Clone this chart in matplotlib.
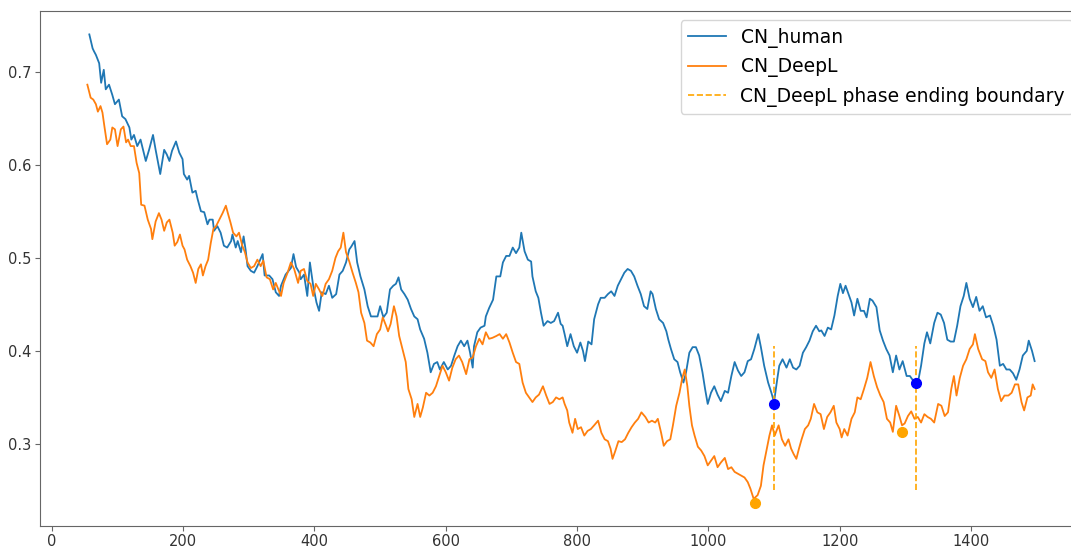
import matplotlib
matplotlib.use("Agg")
import matplotlib.pyplot as plt

# (position, value)
human = [
    (57, .740), (62, .725), (64, .722), (67, .718), (72, .709), (75, .688), (79, .702), (82, .681),
    (87, .686), (92, .675), (96, .665), (102, .670), (107, .652), (112, .649), (118, .640), (121, .627),
    (125, .632), (130, .620), (135, .627), (143, .604), (148, .616), (154, .632), (158, .616), (165, .590),
    (171, .616), (175, .611), (179, .604), (183, .615), (189, .625), (194, .613), (199, .606), (201, .590),
    (206, .584), (209, .588), (214, .570), (219, .572), (222, .563), (227, .550), (232, .549), (237, .536),
    (240, .541), (245, .541), (247, .529), (252, .534), (257, .527), (262, .513), (267, .511), (273, .518),
    (275, .525), (280, .511), (283, .518), (288, .506), (292, .523), (295, .509), (298, .491), (303, .486),
    (308, .484), (313, .491), (321, .504), (324, .481), (331, .481), (336, .477), (341, .463), (346, .459),
    (349, .470), (356, .482), (364, .489), (368, .504), (372, .490), (377, .484), (379, .477), (384, .482),
    (389, .459), (393, .495), (398, .470), (403, .452), (407, .443), (411, .463), (417, .461), (422, .470),
    (427, .457), (433, .461), (438, .482), (443, .486), (448, .495), (453, .509), (456, .512), (461, .518),
    (465, .495), (470, .480), (476, .466), (481, .448), (486, .437), (491, .437), (496, .437), (500, .448),
    (505, .436), (510, .441), (515, .466), (520, .470), (524, .472), (528, .479), (532, .466), (537, .461),
    (542, .455), (547, .445), (552, .437), (557, .434), (561, .423), (567, .413), (572, .398), (577, .377),
    (582, .386), (587, .388), (591, .380), (597, .388), (603, .380), (608, .384), (613, .395), (618, .405),
    (623, .411), (628, .405), (633, .411), (637, .398), (641, .382), (643, .405), (648, .420), (653, .425),
    (659, .427), (661, .437), (666, .446), (672, .455), (677, .480), (683, .480), (687, .495), (692, .502),
    (697, .502), (702, .511), (707, .505), (712, .511), (715, .527), (720, .507), (725, .498), (730, .496),
    (732, .480), (737, .464), (741, .457), (745, .441), (749, .427), (755, .432), (760, .430), (765, .432),
    (771, .441), (775, .429), (778, .427), (781, .418), (785, .405), (790, .418), (795, .405), (800, .398),
    (805, .409), (809, .400), (812, .389), (817, .410), (822, .407), (826, .434), (832, .450), (836, .457),
    (842, .457), (847, .461), (852, .464), (857, .459), (862, .470), (867, .477), (872, .484), (877, .488),
    (882, .486), (887, .480), (892, .470), (897, .461), (902, .448), (907, .445), (912, .464), (915, .461),
    (920, .445), (925, .434), (931, .430), (936, .421), (939, .412), (943, .402), (948, .391), (953, .388),
    (957, .377), (962, .366), (966, .377), (971, .398), (976, .404), (981, .404), (986, .395), (991, .377),
    (995, .359), (999, .343), (1004, .355), (1009, .362), (1014, .353), (1019, .346), (1025, .357), (1030, .355),
    (1035, .373), (1040, .388), (1045, .379), (1050, .373), (1055, .377), (1060, .389), (1065, .391), (1070, .402),
    (1076, .418), (1080, .404), (1085, .384), (1091, .366), (1096, .355), (1100, .345), (1105, .370), (1108, .384),
    (1113, .391), (1119, .382), (1124, .391), (1129, .382), (1134, .380), (1139, .384), (1144, .398), (1149, .404),
    (1154, .411), (1159, .421), (1164, .427), (1169, .421), (1172, .422), (1177, .416), (1182, .425), (1187, .423),
    (1192, .438), (1197, .459), (1201, .472), (1205, .462), (1209, .470), (1213, .462), (1218, .452), (1222, .438),
    (1227, .456), (1232, .443), (1237, .443), (1241, .436), (1246, .456), (1250, .454), (1256, .447), (1261, .422),
    (1266, .411), (1271, .402), (1276, .395), (1281, .377), (1286, .395), (1291, .380), (1296, .389), (1302, .373),
    (1307, .373), (1312, .368), (1316, .366), (1320, .369), (1324, .384), (1329, .408), (1333, .420), (1338, .408),
    (1344, .430), (1349, .441), (1354, .439), (1359, .430), (1364, .412), (1369, .410), (1374, .410), (1379, .427),
    (1384, .448), (1389, .459), (1393, .473), (1398, .456), (1403, .447), (1408, .458), (1413, .443), (1418, .448),
    (1423, .436), (1429, .438), (1434, .427), (1439, .412), (1444, .384), (1449, .386), (1454, .380), (1459, .380),
    (1464, .376), (1469, .369), (1474, .380), (1479, .395), (1485, .400), (1488, .411), (1493, .400), (1497, .389),
]

deepl = [
    (54, .686), (59, .672), (63, .670), (67, .665), (70, .657), (74, .663), (77, .656), (80, .641),
    (84, .622), (89, .627), (92, .640), (96, .638), (100, .620), (105, .638), (109, .641), (113, .624),
    (116, .627), (120, .620), (125, .620), (129, .602), (133, .591), (136, .557), (141, .556), (146, .541),
    (151, .531), (153, .520), (158, .539), (163, .548), (167, .541), (171, .529), (175, .538), (179, .541),
    (184, .527), (187, .513), (191, .517), (195, .525), (199, .513), (202, .509), (206, .498), (211, .491),
    (215, .484), (219, .473), (223, .488), (227, .493), (230, .481), (234, .491), (238, .498), (242, .516),
    (246, .531), (250, .534), (255, .541), (260, .548), (265, .556), (268, .548), (272, .538), (276, .527),
    (281, .523), (285, .527), (290, .513), (294, .506), (298, .495), (303, .489), (308, .491), (313, .498),
    (318, .491), (322, .497), (327, .479), (332, .477), (337, .466), (341, .473), (345, .466), (349, .459),
    (353, .473), (359, .484), (364, .495), (369, .488), (375, .473), (379, .486), (384, .488), (389, .475),
    (394, .472), (398, .459), (402, .472), (407, .466), (412, .459), (417, .472), (422, .477), (427, .486),
    (432, .500), (436, .507), (440, .511), (444, .527), (448, .506), (453, .496), (458, .484), (463, .473),
    (467, .463), (471, .441), (476, .430), (480, .411), (485, .409), (490, .405), (495, .418), (500, .423),
    (504, .436), (509, .427), (512, .421), (516, .429), (521, .448), (525, .437), (529, .416), (534, .402),
    (539, .388), (543, .359), (548, .348), (552, .329), (557, .343), (561, .329), (565, .339), (570, .355),
    (575, .352), (580, .355), (585, .362), (590, .373), (595, .384), (600, .377), (605, .368), (610, .382),
    (615, .391), (620, .395), (625, .388), (631, .375), (636, .391), (641, .393), (646, .405), (651, .413),
    (656, .407), (661, .420), (666, .413), (671, .414), (677, .416), (682, .418), (687, .413), (692, .418),
    (697, .409), (702, .398), (707, .388), (712, .386), (717, .366), (722, .355), (727, .350), (732, .345),
    (737, .350), (742, .353), (748, .362), (753, .352), (758, .343), (763, .345), (768, .350), (773, .348),
    (778, .350), (781, .343), (785, .336), (788, .323), (793, .312), (797, .327), (801, .316), (806, .318),
    (811, .309), (816, .314), (821, .316), (826, .320), (832, .325), (837, .312), (842, .305), (847, .303),
    (851, .295), (854, .284), (858, .292), (863, .303), (868, .302), (873, .305), (878, .312), (883, .318),
    (888, .323), (893, .327), (898, .334), (904, .329), (909, .323), (914, .325), (919, .323), (923, .327),
    (928, .312), (932, .298), (937, .303), (942, .305), (946, .320), (951, .341), (956, .355), (960, .370),
    (964, .380), (968, .362), (971, .341), (975, .320), (979, .309), (984, .297), (989, .293), (994, .287),
    (999, .277), (1004, .282), (1009, .287), (1014, .275), (1019, .280), (1025, .285), (1030, .273), (1035, .275),
    (1040, .270), (1045, .268), (1050, .266), (1055, .264), (1060, .259), (1064, .252), (1069, .241), (1075, .245),
    (1080, .255), (1084, .277), (1088, .291), (1093, .309), (1097, .320), (1101, .309), (1107, .320), (1112, .305),
    (1117, .298), (1122, .305), (1126, .295), (1130, .289), (1134, .284), (1138, .295), (1142, .305), (1147, .316),
    (1152, .320), (1156, .327), (1161, .343), (1166, .334), (1171, .332), (1176, .316), (1181, .329), (1186, .334),
    (1191, .341), (1195, .323), (1200, .316), (1203, .307), (1207, .316), (1212, .309), (1218, .327), (1223, .334),
    (1227, .350), (1232, .348), (1237, .359), (1242, .371), (1247, .388), (1252, .373), (1257, .361), (1262, .352),
    (1267, .345), (1272, .327), (1277, .323), (1281, .313), (1286, .341), (1291, .330), (1295, .320), (1299, .322),
    (1304, .330), (1309, .335), (1314, .327), (1319, .329), (1324, .323), (1329, .332), (1334, .329), (1339, .327),
    (1344, .323), (1350, .343), (1355, .341), (1360, .330), (1365, .334), (1370, .359), (1374, .373), (1378, .352),
    (1383, .371), (1388, .384), (1393, .391), (1398, .402), (1403, .407), (1406, .418), (1411, .402), (1417, .391),
    (1422, .389), (1426, .377), (1431, .371), (1436, .380), (1441, .359), (1446, .346), (1451, .352), (1457, .352),
    (1462, .355), (1467, .364), (1472, .364), (1477, .345), (1481, .336), (1486, .350), (1491, .352), (1494, .364),
    (1497, .359),
]

# phase ending boundaries and the marked points
boundary_x = [1100, 1316]
boundary_lo, boundary_hi = 0.25, 0.405
human_dots_x = [1100, 1316]
human_dots_y = [0.343, 0.366]
deepl_dots_x = [1071, 1295]
deepl_dots_y = [0.237, 0.313]

hx, hy = zip(*human)
dx, dy = zip(*deepl)

fig = plt.figure(figsize=(10.71, 5.48), dpi=100)
ax = fig.add_axes([40 / 1071, 22 / 548, 1042 / 1071, 515 / 548])

ax.plot(hx, hy, color="#1f77b4", lw=1.3, label="CN_human")
ax.plot(dx, dy, color="#ff7f0e", lw=1.3, label="CN_DeepL")
ax.vlines(boundary_x, boundary_lo, boundary_hi, colors="orange", linestyles="--",
          lw=1.2, label="CN_DeepL phase ending boundary")
ax.plot(human_dots_x, human_dots_y, "o", color="blue", ms=7, zorder=5)
ax.plot(deepl_dots_x, deepl_dots_y, "o", color="orange", ms=7, zorder=5)

ax.set_xticks([0, 200, 400, 600, 800, 1000, 1200, 1400])
ax.set_yticks([0.3, 0.4, 0.5, 0.6, 0.7])
ax.tick_params(labelsize=10.5, labelcolor="#333333", color="#666666", pad=2.5)
for s in ax.spines.values():
    s.set_color("#666666")

ax.legend(loc="upper right", fontsize=13.5)

fig.savefig("out.png", dpi=100)
